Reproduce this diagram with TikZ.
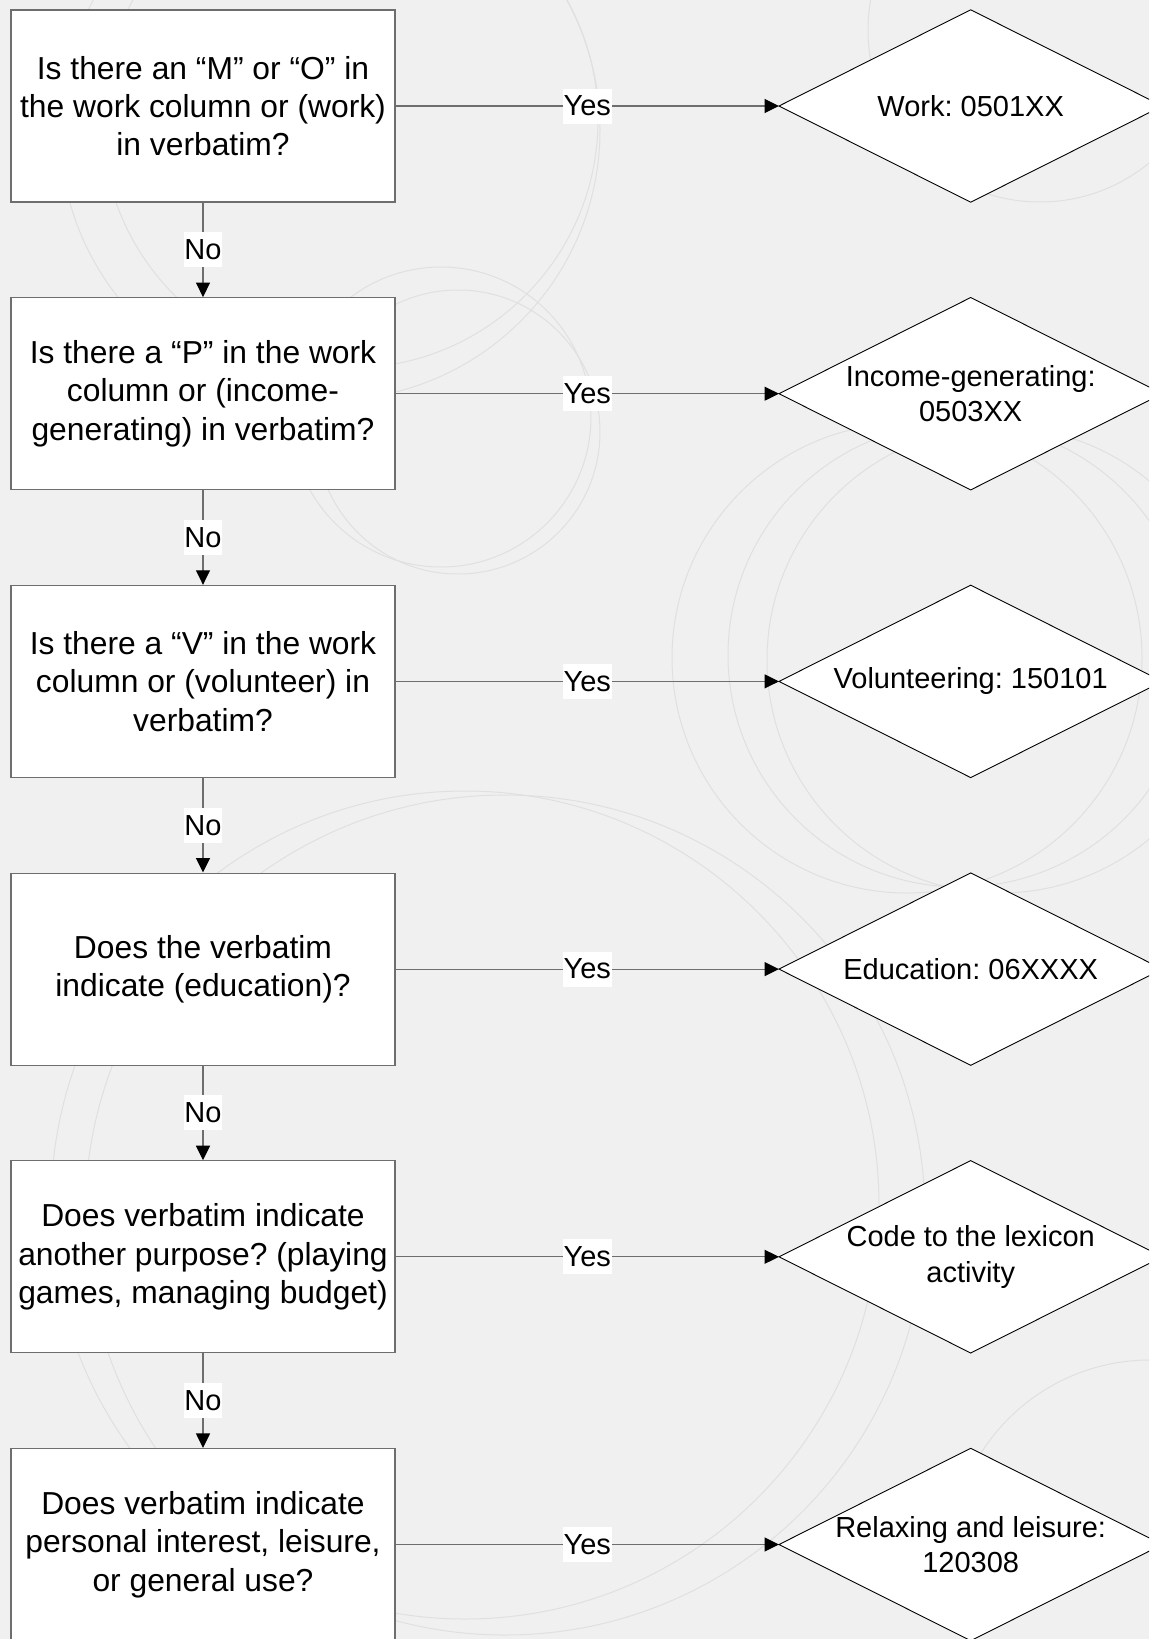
\documentclass[tikz,border=0pt]{standalone}
\usepackage{fontspec}
\setmainfont{Liberation Sans}
\usetikzlibrary{arrows.meta}
\definecolor{bg}{HTML}{F0F0F0}
\definecolor{arcc}{HTML}{E0E0E0}
\definecolor{edge}{HTML}{6E6E6E}
\frenchspacing
\begin{document}
\begin{tikzpicture}[x=1pt,y=-1pt,
  qbox/.style={draw=edge, line width=1.2pt, fill=white, minimum width=384pt, minimum height=192pt, inner sep=0pt, align=center, font=\fontsize{31.8}{38.3}\selectfont},
  dbox/.style={minimum width=383pt, minimum height=192pt, inner sep=0pt},
  dshape/.style={draw=black, line width=0.9pt, fill=white, line join=miter},
  dtext/.style={inner sep=0pt, align=center, font=\fontsize{29}{35.5}\selectfont},
  lab/.style={fill=white, inner xsep=0.6pt, inner ysep=0pt, minimum height=35pt, font=\fontsize{29}{35}\selectfont},
  conn/.style={draw=edge, line width=1.2pt, -{Triangle[length=14.5pt,width=14pt,color=black]}}
]
\useasboundingbox (0,0) rectangle (1149,1639);
\clip (0,0) rectangle (1149,1639);
\fill[bg] (0,0) rectangle (1149,1639);
\begin{scope}[draw=arcc, line width=1pt]
\draw (441,417) circle[radius=150];
\draw (458,432) circle[radius=142];
\draw (907,658) circle[radius=235];
\draw (960,655) circle[radius=232];
\draw (1000,660) circle[radius=233];
\draw (1040,30) circle[radius=172];
\draw (465,1205) circle[radius=414];
\draw (505,1215) circle[radius=420];
\draw (330,130) circle[radius=270];
\draw (350,120) circle[radius=248];
\draw (1150,1560) circle[radius=200];
\end{scope}

% question boxes
\node[qbox] (q1) at (203,106) {Is there an “M” or “O” in\\the work column or (work)\\in verbatim?};
\node[qbox] (q2) at (203,393.7) {Is there a “P” in the work\\column or (income-\\generating) in verbatim?};
\node[qbox] (q3) at (203,681.4) {Is there a “V” in the work\\column or (volunteer) in\\verbatim?};
\node[qbox] (q4) at (203,969.1) {Does the verbatim\\indicate (education)?};
\node[qbox] (q5) at (203,1256.8) {Does verbatim indicate\\another purpose? (playing\\games, managing budget)};
\node[qbox] (q6) at (203,1544.5) {Does verbatim indicate\\personal interest, leisure,\\or general use?};

% outcome diamonds
\node[dbox] (d1) at (970.7,106) {};
\node[dbox] (d2) at (970.7,393.7) {};
\node[dbox] (d3) at (970.7,681.4) {};
\node[dbox] (d4) at (970.7,969.1) {};
\node[dbox] (d5) at (970.7,1256.8) {};
\node[dbox] (d6) at (970.7,1544.5) {};
\foreach \d in {d1,d2,d3,d4,d5,d6}
  \draw[dshape] (\d.north) -- (\d.east) -- (\d.south) -- (\d.west) -- cycle;
\node[dtext] (t1) at (d1) {Work: 0501XX};
\node[dtext] (t2) at (d2) {Income-generating:\\0503XX};
\node[dtext] (t3) at (d3) {Volunteering: 150101};
\node[dtext] (t4) at (d4) {Education: 06XXXX};
\node[dtext] (t5) at (d5) {Code to the lexicon\\activity};
\node[dtext] (t6) at (d6) {Relaxing and leisure:\\120308};

% connectors
\draw[conn] (q1.east) -- node[lab] {Yes} (d1.west);
\draw[conn] (q2.east) -- node[lab] {Yes} (d2.west);
\draw[conn] (q3.east) -- node[lab] {Yes} (d3.west);
\draw[conn] (q4.east) -- node[lab] {Yes} (d4.west);
\draw[conn] (q5.east) -- node[lab] {Yes} (d5.west);
\draw[conn] (q6.east) -- node[lab] {Yes} (d6.west);
\draw[conn] (q1.south) -- node[lab] {No} (q2.north);
\draw[conn] (q2.south) -- node[lab] {No} (q3.north);
\draw[conn] (q3.south) -- node[lab] {No} (q4.north);
\draw[conn] (q4.south) -- node[lab] {No} (q5.north);
\draw[conn] (q5.south) -- node[lab] {No} (q6.north);
\end{tikzpicture}
\end{document}
